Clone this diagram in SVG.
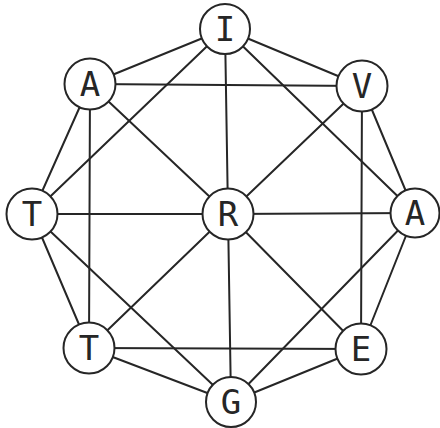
<svg xmlns="http://www.w3.org/2000/svg" width="440" height="428" viewBox="0 0 440 428">
<style>
.e{stroke:#262626;stroke-width:2;fill:none;stroke-linecap:round}
.n circle{fill:#fff;stroke:#262626;stroke-width:2}
.n text{font-family:"DejaVu Sans Mono","Liberation Mono",monospace;font-size:34px;fill:#262626;text-anchor:middle}
</style>
<rect width="440" height="428" fill="#fff"/>
<g id="connectors" class="e">
<line x1="225" y1="29" x2="90" y2="84"/>
<line x1="225" y1="29" x2="362" y2="86"/>
<line x1="225" y1="29" x2="228" y2="214"/>
<line x1="225" y1="29" x2="32" y2="214"/>
<line x1="225" y1="29" x2="415" y2="213"/>
<line x1="90" y1="84" x2="362" y2="86"/>
<line x1="90" y1="84" x2="32" y2="214"/>
<line x1="90" y1="84" x2="89" y2="348"/>
<line x1="90" y1="84" x2="228" y2="214"/>
<line x1="362" y1="86" x2="228" y2="214"/>
<line x1="362" y1="86" x2="361" y2="349"/>
<line x1="362" y1="86" x2="415" y2="213"/>
<line x1="32" y1="214" x2="228" y2="214"/>
<line x1="32" y1="214" x2="89" y2="348"/>
<line x1="32" y1="214" x2="231" y2="402"/>
<line x1="228" y1="214" x2="415" y2="213"/>
<line x1="228" y1="214" x2="89" y2="348"/>
<line x1="228" y1="214" x2="231" y2="402"/>
<line x1="228" y1="214" x2="361" y2="349"/>
<line x1="415" y1="213" x2="361" y2="349"/>
<line x1="415" y1="213" x2="231" y2="402"/>
<line x1="89" y1="348" x2="361" y2="349"/>
<line x1="89" y1="348" x2="231" y2="402"/>
<line x1="361" y1="349" x2="231" y2="402"/>
</g>
<g id="nI" class="n"><circle cx="225" cy="29" r="25"/><text x="225" y="41">I</text></g>
<g id="nA1" class="n"><circle cx="90" cy="84" r="25.5"/><text x="90" y="96">A</text></g>
<g id="nV" class="n"><circle cx="362" cy="86" r="25.5"/><text x="362" y="98">V</text></g>
<g id="nT1" class="n"><circle cx="32" cy="214" r="25.5"/><text x="32" y="226">T</text></g>
<g id="nR" class="n"><circle cx="228" cy="214" r="25.5"/><text x="228" y="226">R</text></g>
<g id="nA2" class="n"><circle cx="415" cy="213" r="24.5"/><text x="415" y="225">A</text></g>
<g id="nT2" class="n"><circle cx="89" cy="348" r="25.5"/><text x="89" y="360">T</text></g>
<g id="nE" class="n"><circle cx="361" cy="349" r="25.5"/><text x="361" y="361">E</text></g>
<g id="nG" class="n"><circle cx="231" cy="402" r="25"/><text x="231" y="414">G</text></g>
</svg>
